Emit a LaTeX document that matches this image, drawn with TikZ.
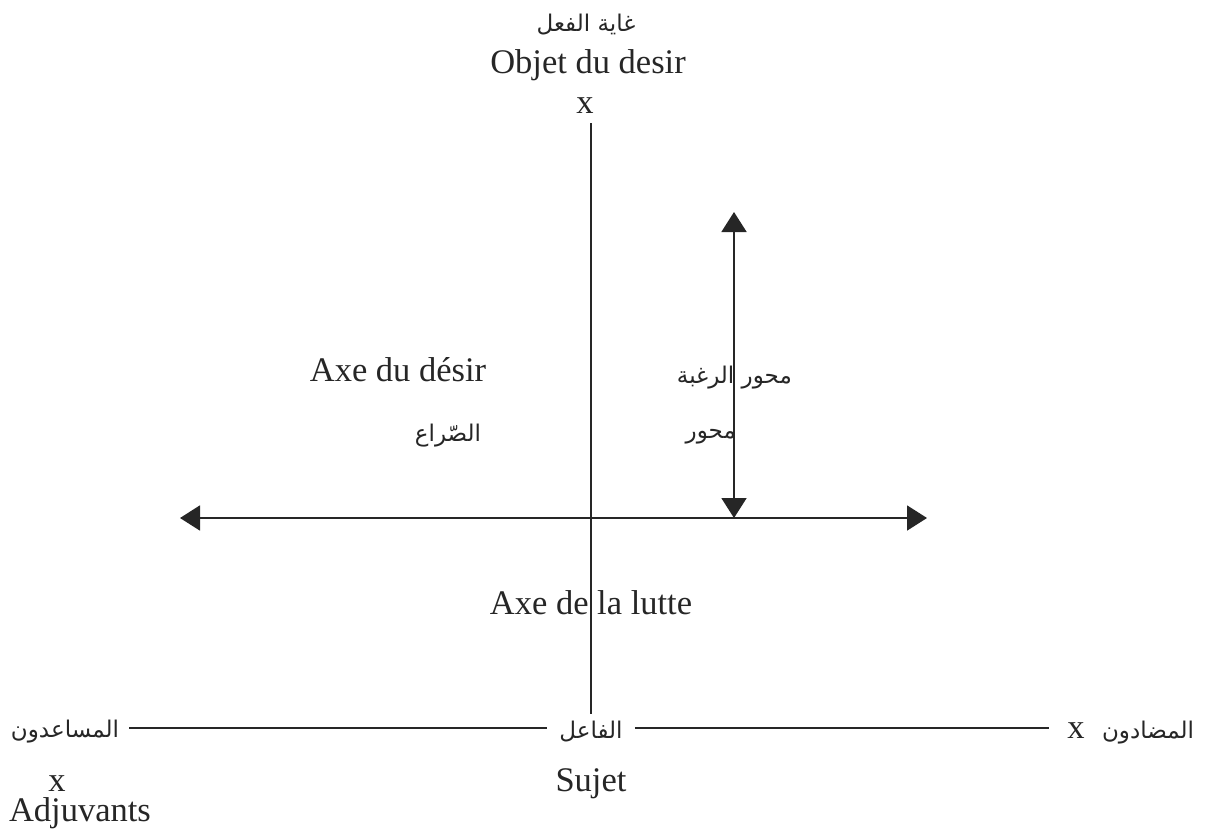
\documentclass[tikz,border=0pt]{standalone}
\usepackage{fontspec}
\setmainfont{Liberation Serif}
\newfontfamily\arabicfont[Script=Arabic]{DejaVu Sans}
\TeXXeTstate=1
\usetikzlibrary{arrows.meta}
\newcommand\latfont{\fontsize{34.5}{40}\selectfont}
\newcommand\arfont{\arabicfont\fontsize{23}{28}\selectfont}
\begin{document}
\begin{tikzpicture}[x=1pt,y=-1pt,
  lat/.style={font=\latfont, inner sep=0pt, text=black!85},
  ar/.style={font=\arfont, inner sep=0pt, text=black!85},
  ln/.style={line width=1.8pt, black!85},
  arr/.style={ln, {Triangle[length=20pt,width=25pt]}-{Triangle[length=20pt,width=25pt]}}]
\useasboundingbox (0,0) rectangle (1206,838);
% top
\node[ar, anchor=base] (ghaya) at (586,31) {\beginR غاية الفعل\endR};
\node[lat, anchor=base] (objet) at (588,73) {Objet du desir};
\node[lat, anchor=base] (objx) at (585,113) {x};
% middle labels
\node[lat, anchor=base] (axedesir) at (398,381) {Axe du désir};
\node[ar, anchor=base] (siraa) at (448,441) {\beginR الصّراع\endR};
\node[ar, anchor=base east] (mihwar1) at (792,383) {\beginR محور الرغبة\endR};
\node[ar, anchor=base east] (mihwar2) at (736,438) {\beginR محور\endR};
\node[lat, anchor=base] (lutte) at (591,614) {Axe de la lutte};
% bottom row
\node[ar, anchor=base] (faail) at (591,738) {\beginR الفاعل\endR};
\node[lat, anchor=base] (sujet) at (591,791) {Sujet};
\node[ar, anchor=base] (musaid) at (65,737) {\beginR المساعدون\endR};
\node[lat, anchor=base] (adjx) at (57,791) {x};
\node[lat, anchor=base] (adjuv) at (80,821) {Adjuvants};
\node[lat, anchor=base] (oppx) at (1076,738) {x};
\node[ar, anchor=base] (mudad) at (1148,738) {\beginR المضادون\endR};
% coordinates
\coordinate (ybot) at (0,728);
\coordinate (vend) at (591,714);
\coordinate (hl) at (180,518);
\coordinate (hr) at (927,518);
\coordinate (vt) at (734,212);
\coordinate (vb) at (734,518);
% main vertical axis
\draw[ln] ([yshift=-10pt]objx.south -| vend) -- (vend);
% horizontal double arrow (axe de la lutte)
\draw[arr] (hl) -- (hr);
% vertical double arrow (axe du desir)
\draw[arr] (vt) -- (vb);
% bottom lines
\draw[ln] ([xshift=10pt]musaid.east |- ybot) -- ([xshift=-12pt]faail.west |- ybot);
\draw[ln] ([xshift=12pt]faail.east |- ybot) -- ([xshift=-18pt]oppx.west |- ybot);
\end{tikzpicture}
\end{document}
